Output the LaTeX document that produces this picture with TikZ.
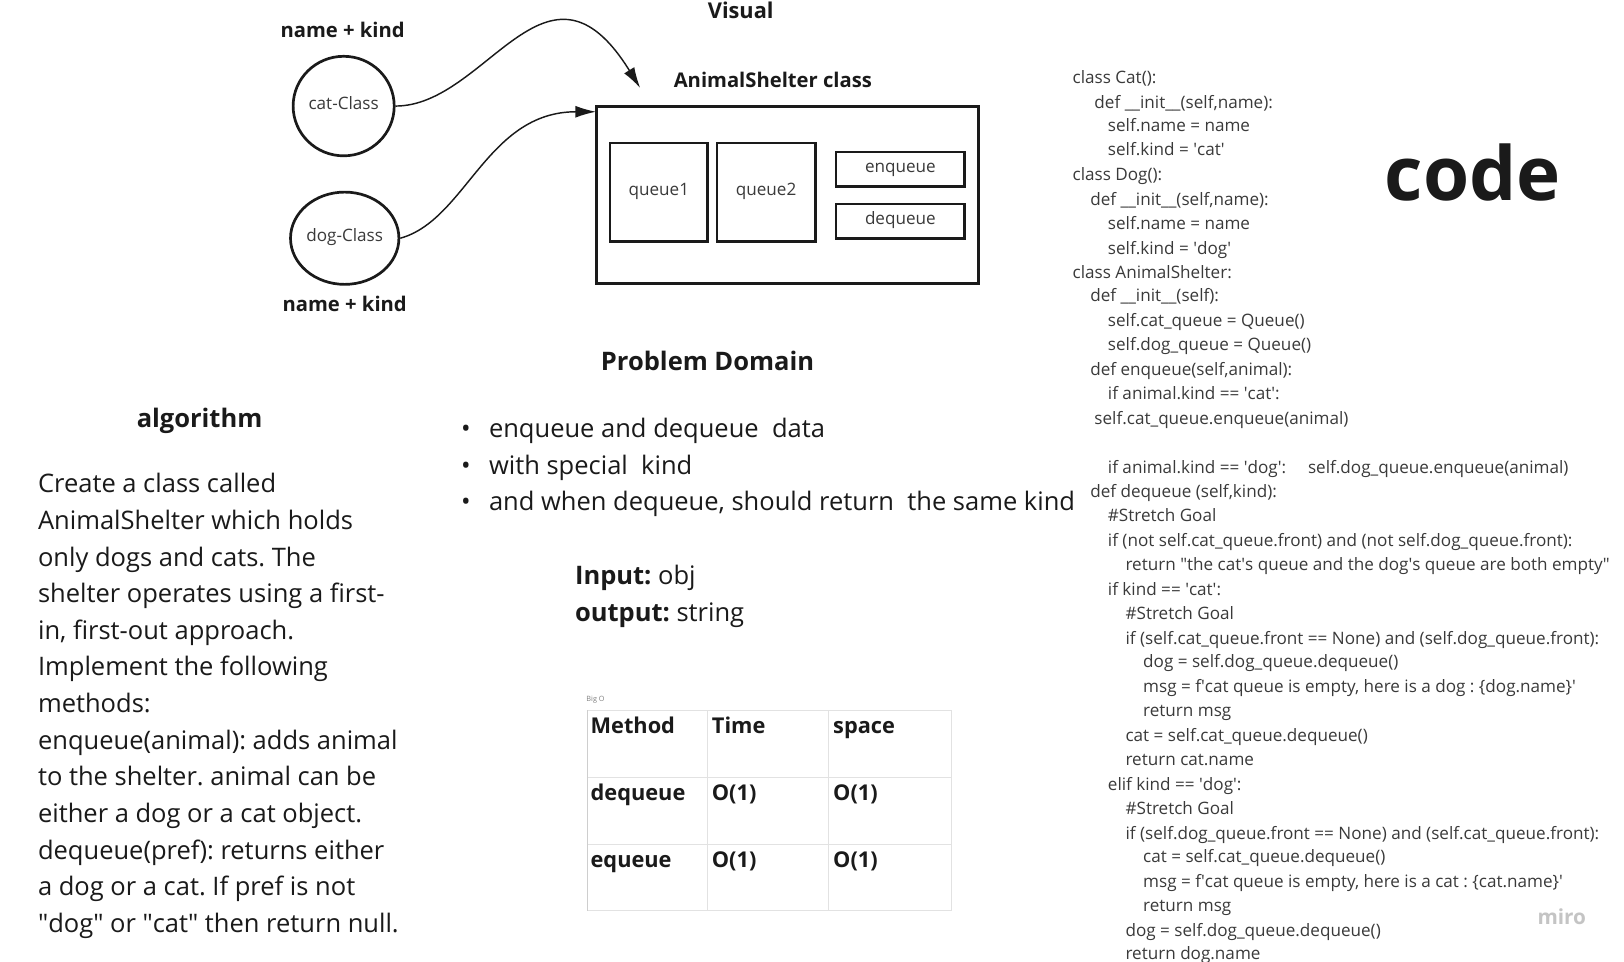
\documentclass[tikz,border=0pt]{standalone}
\usepackage{fontspec}
\setmainfont{Open Sans}
\usetikzlibrary{arrows.meta,shapes.geometric}
\definecolor{ink}{HTML}{1A1A1A}
\definecolor{codegray}{HTML}{3A3A3A}
\definecolor{gridgray}{HTML}{E2E2E2}
\definecolor{wm}{HTML}{C4C4C4}
\newcommand\sq{\textquotesingle}
\newcommand\dq{\textquotedbl}
\frenchspacing
\begin{document}
\begin{tikzpicture}[x=1pt,y=-1pt,
  codeline/.style={anchor=base west, inner sep=0, font=\fontsize{16.5}{20}\selectfont, text=codegray},
  bodyline/.style={anchor=base west, inner sep=0, font=\fontsize{24.6}{30}\selectfont, text=ink},
  heading/.style={anchor=base, inner sep=0, font=\bfseries\fontsize{24.6}{30}\selectfont, text=ink},
  label/.style={anchor=base, inner sep=0, font=\bfseries\fontsize{19.5}{24}\selectfont, text=ink},
  classnode/.style={ellipse, draw=ink, line width=2.6, inner sep=0, text height=0.8em, text depth=0.2em, font=\fontsize{16.5}{20}\selectfont, text=codegray},
  box/.style={draw=ink, line width=2.5, inner sep=0, text height=0.8em, text depth=0.2em, font=\fontsize{16.5}{20}\selectfont, text=codegray},
  cell/.style={anchor=base west, inner sep=0, font=\bfseries\fontsize{21}{26}\selectfont, text=ink},
  grid/.style={draw=gridgray, line width=1},
  conn/.style={draw=ink, line width=1.4, -{Latex[length=20, width=11.5]}}
]
\useasboundingbox (0.5,-1.3) rectangle (1567,925.7);
\fill[white] (0.5,-1.3) rectangle (1567,925.7);

% ---------- Visual ----------
\node[label, font=\bfseries\fontsize{21}{24}\selectfont] (visual) at (715,17) {Visual};
\node[label] (nk1) at (331,35) {name + kind};
\node[label] (nk2) at (333,299) {name + kind};
\node[label] (ascls) at (746,83.5) {AnimalShelter class};

\node[classnode, minimum width=97.5, minimum height=96] (cat) at (332,101) {cat-Class};
\node[classnode, minimum width=99, minimum height=89] (dog) at (333,228.5) {dog-Class};

\node[draw=ink, line width=3, minimum width=368, minimum height=171, inner sep=0] (shelter) at (760,187) {};
\node[box, minimum width=94, minimum height=95] (q1) at (636,184) {queue1};
\node[box, minimum width=95, minimum height=95] (q2) at (739.5,184) {queue2};
\node[box, minimum width=124, minimum height=33] (enq) at (869,162) {enqueue};
\node[box, minimum width=124, minimum height=33] (deq) at (869,212) {dequeue};

\coordinate (a1end) at (618,83.5);
\coordinate (a2end) at (575.5,106.5);
\draw[conn] (cat.east) .. controls (470,101) and (528,-62) .. (a1end);
\draw[conn] (dog.east) .. controls (450,211) and (470,106.5) .. (a2end);

% ---------- Problem domain ----------
\node[heading] (pd) at (683,356) {Problem Domain};
\node[bodyline] (b1d) at (445,421) {•};
\node[bodyline] (b2d) at (445,456) {•};
\node[bodyline] (b3d) at (445,491.5) {•};
\node[bodyline] (b1) at (472,421) {enqueue and dequeue~ data};
\node[bodyline] (b2) at (472,456) {with special~ kind};
\node[bodyline] (b3) at (472,491.5) {and when dequeue, should return~ the same kind};
\node[bodyline] (inp) at (555,562.5) {\textbf{Input:} obj};
\node[bodyline] (outp) at (555,598.5) {\textbf{output:} string};

% ---------- algorithm ----------
\node[heading] (alg) at (193,411) {algorithm};
\foreach \t [count=\i from 0] in {
  {Create a class called},
  {AnimalShelter which holds},
  {only dogs and cats. The},
  {shelter operates using a first-},
  {in, first-out approach.},
  {Implement the following},
  {methods:},
  {enqueue(animal): adds animal},
  {to the shelter. animal can be},
  {either a dog or a cat object.},
  {dequeue(pref): returns either},
  {a dog or a cat. If pref is not},
  {\dq dog\dq{} or \dq cat\dq{} then return null.}}
  \node[bodyline] (alg\i) at (37,{474+35.35*\i}) {\t};

% ---------- Big O table ----------
\node[anchor=base west, inner sep=0, font=\fontsize{7}{8}\selectfont, text=gray] (bigo) at (566,675) {Big O};
\draw[grid] (567,684) rectangle (918,877);
\draw[grid] (683,684) -- (683,877);
\draw[grid] (800,684) -- (800,877);
\draw[grid] (567,749) -- (918,749);
\draw[grid] (567,813) -- (918,813);
\draw[draw=gridgray!80!gray, line width=1] (567,684) -- (567,877);
\node[cell] (m0) at (570,706) {Method};
\node[cell] (t0) at (687,706) {Time};
\node[cell] (s0) at (804,706) {space};
\node[cell] (m1) at (570,771) {dequeue};
\node[cell] (t1) at (687,771) {O(1)};
\node[cell] (s1) at (804,771) {O(1)};
\node[cell] (m2) at (570,835) {equeue};
\node[cell] (t2) at (687,835) {O(1)};
\node[cell] (s2) at (804,835) {O(1)};

% ---------- code ----------
\node[anchor=base, inner sep=0, font=\bfseries\fontsize{72}{80}\selectfont, text=ink] (codet) at (1421,192) {code};
\node[anchor=base, inner sep=0, font=\bfseries\fontsize{20}{24}\selectfont, text=wm] (miro) at (1507,890) {miro};

\node[codeline] (c1) at (1035,79) {class Cat():};
\node[codeline] (c2) at (1056,103) {def \_\_init\_\_(self,name):};
\node[codeline] (c3) at (1069,126) {self.name = name};
\node[codeline] (c4) at (1069,149) {self.kind = \sq{}cat\sq{}};
\node[codeline] (c5) at (1035,173) {class Dog():};
\node[codeline] (c6) at (1052,197) {def \_\_init\_\_(self,name):};
\node[codeline] (c7) at (1069,220) {self.name = name};
\node[codeline] (c8) at (1069,244) {self.kind = \sq{}dog\sq{}};
\node[codeline] (c9) at (1035,267) {class AnimalShelter:};
\node[codeline] (c10) at (1052,290) {def \_\_init\_\_(self):};
\node[codeline] (c11) at (1069,314) {self.cat\_queue = Queue()};
\node[codeline] (c12) at (1069,337) {self.dog\_queue = Queue()};
\node[codeline] (c13) at (1052,361) {def enqueue(self,animal):};
\node[codeline] (c14) at (1069,384) {if animal.kind == \sq{}cat\sq{}:};
\node[codeline] (c15) at (1056,408) {self.cat\_queue.enqueue(animal)};
\node[codeline] (c16) at (1069,455) {if animal.kind == \sq{}dog\sq{}:};
\node[codeline] (c16b) at (1262,455) {self.dog\_queue.enqueue(animal)};
\node[codeline] (c17) at (1052,479) {def dequeue (self,kind):};
\node[codeline] (c18) at (1069,502) {\#Stretch Goal};
\node[codeline] (c19) at (1069,526) {if (not self.cat\_queue.front) and (not self.dog\_queue.front):};
\node[codeline] (c20) at (1086,549) {return \dq{}the cat\sq{}s queue and the dog\sq{}s queue are both empty\dq{}};
\node[codeline] (c21) at (1069,573) {if kind == \sq{}cat\sq{}:};
\node[codeline] (c22) at (1086,596) {\#Stretch Goal};
\node[codeline] (c23) at (1086,620) {if (self.cat\_queue.front == None) and (self.dog\_queue.front):};
\node[codeline] (c24) at (1103,643) {dog = self.dog\_queue.dequeue()};
\node[codeline] (c25) at (1103,667) {msg = f\sq{}cat queue is empty, here is a dog : \{dog.name\}\sq{}};
\node[codeline] (c26) at (1103,690) {return msg};
\node[codeline] (c27) at (1086,714) {cat = self.cat\_queue.dequeue()};
\node[codeline] (c28) at (1086,737) {return cat.name};
\node[codeline] (c29) at (1069,761) {elif kind == \sq{}dog\sq{}:};
\node[codeline] (c30) at (1086,784) {\#Stretch Goal};
\node[codeline] (c31) at (1086,808) {if (self.dog\_queue.front == None) and (self.cat\_queue.front):};
\node[codeline] (c32) at (1103,831) {cat = self.cat\_queue.dequeue()};
\node[codeline] (c33) at (1103,855) {msg = f\sq{}cat queue is empty, here is a cat : \{cat.name\}\sq{}};
\node[codeline] (c34) at (1103,878) {return msg};
\node[codeline] (c35) at (1086,902) {dog = self.dog\_queue.dequeue()};
\node[codeline] (c36) at (1086,924.5) {return dog.name};
\end{tikzpicture}
\end{document}
